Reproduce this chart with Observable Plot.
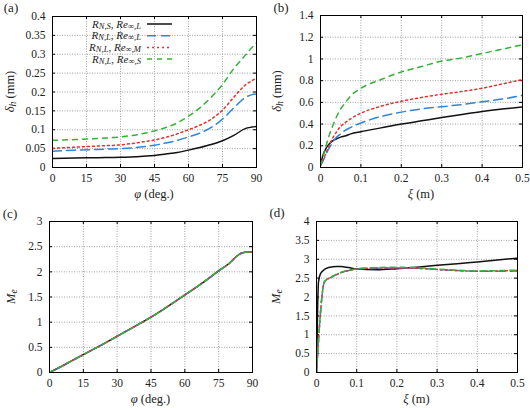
<!DOCTYPE html>
<html>
<head>
<meta charset="utf-8">
<script src="https://cdn.jsdelivr.net/npm/d3@7"></script>
<script src="https://cdn.jsdelivr.net/npm/@observablehq/plot@0.6"></script>
<style>
  body { margin: 0; background: #fff; }
  #fig { position: relative; width: 530px; height: 408px; }
  #fig svg { position: absolute; overflow: visible; }
  #fig svg, #fig svg text { font-family: "Liberation Serif", "DejaVu Serif", serif !important; }
</style>
</head>
<body>
<div id="fig"></div>
<script>
// ---- series styling (black solid, blue long dash, red dots, green dashes)
const seriesKeys = ["NS_L", "NL_L", "NL_M", "NL_S"];
const seriesColors = ["#111111", "#2f86d8", "#e3322f", "#35b035"];
const seriesDash = [null, "9,5", "2,3", "5,5"];
const legendRows = [
  [["R", "i"], ["N,S", "sub"], [", ", ""], ["Re", "i"], ["∞,L", "sub"]],
  [["R", "i"], ["N,L", "sub"], [", ", ""], ["Re", "i"], ["∞,L", "sub"]],
  [["R", "i"], ["N,L", "sub"], [", ", ""], ["Re", "i"], ["∞,M", "sub"]],
  [["R", "i"], ["N,L", "sub"], [", ", ""], ["Re", "i"], ["∞,S", "sub"]]
];

// ---- (a) boundary-layer thickness vs. phi
const phiA = [0, 10, 20, 30, 40, 45, 50, 55, 60, 65, 70, 75, 80, 85, 88, 90];
const deltaA_NS_L = [0.024, 0.025, 0.026, 0.027, 0.030, 0.032, 0.036, 0.040, 0.046, 0.053, 0.061, 0.071, 0.085, 0.103, 0.107, 0.109];
const deltaA_NL_L = [0.043, 0.046, 0.048, 0.050, 0.055, 0.059, 0.065, 0.072, 0.081, 0.091, 0.106, 0.128, 0.158, 0.185, 0.193, 0.195];
const deltaA_NL_M = [0.051, 0.054, 0.057, 0.060, 0.068, 0.073, 0.080, 0.089, 0.100, 0.112, 0.128, 0.152, 0.186, 0.218, 0.230, 0.237];
const deltaA_NL_S = [0.072, 0.074, 0.077, 0.081, 0.090, 0.097, 0.106, 0.118, 0.136, 0.158, 0.186, 0.220, 0.262, 0.297, 0.318, 0.330];

// ---- (b) boundary-layer thickness vs. xi
const xiB = [0, 0.005, 0.01, 0.02, 0.03, 0.04, 0.05, 0.06, 0.075, 0.1, 0.15, 0.2, 0.25, 0.3, 0.35, 0.4, 0.45, 0.5];
const deltaB_NS_L = [0.02, 0.10, 0.15, 0.21, 0.245, 0.265, 0.28, 0.29, 0.31, 0.33, 0.365, 0.40, 0.43, 0.46, 0.488, 0.515, 0.538, 0.558];
const deltaB_NL_L = [0.02, 0.05, 0.09, 0.17, 0.23, 0.28, 0.31, 0.34, 0.37, 0.41, 0.47, 0.51, 0.54, 0.56, 0.58, 0.605, 0.63, 0.665];
const deltaB_NL_M = [0.02, 0.06, 0.10, 0.19, 0.27, 0.33, 0.38, 0.41, 0.45, 0.50, 0.565, 0.61, 0.645, 0.675, 0.70, 0.73, 0.77, 0.81];
const deltaB_NL_S = [0.02, 0.08, 0.15, 0.28, 0.38, 0.47, 0.54, 0.59, 0.66, 0.73, 0.81, 0.88, 0.93, 0.98, 1.01, 1.05, 1.09, 1.13];

// ---- (c) edge Mach number vs. phi (all four cases coincide)
const phiC = [0, 5, 10, 15, 20, 25, 30, 35, 40, 45, 50, 55, 60, 65, 70, 75, 80, 83, 85, 87, 90];
const machC = [0, 0.115, 0.235, 0.355, 0.475, 0.595, 0.72, 0.845, 0.97, 1.10, 1.24, 1.39, 1.54, 1.69, 1.85, 2.02, 2.18, 2.31, 2.37, 2.39, 2.40];

// ---- (d) edge Mach number vs. xi
const xiD_NS = [0, 0.003, 0.005, 0.01, 0.02, 0.03, 0.04, 0.05, 0.06, 0.08, 0.1, 0.15, 0.2, 0.25, 0.3, 0.35, 0.4, 0.45, 0.5];
const machD_NS_L = [0, 1.8, 2.4, 2.62, 2.73, 2.78, 2.80, 2.81, 2.81, 2.78, 2.74, 2.72, 2.75, 2.79, 2.84, 2.88, 2.93, 2.98, 3.03];
const xiD_NL = [0, 0.02, 0.04, 0.06, 0.08, 0.1, 0.15, 0.2, 0.25, 0.3, 0.35, 0.4, 0.45, 0.5];
const machD_NL_L = [0, 2.40, 2.54, 2.64, 2.70, 2.74, 2.76, 2.77, 2.76, 2.73, 2.70, 2.68, 2.68, 2.69];
const machD_NL_M = [0, 2.40, 2.54, 2.64, 2.70, 2.74, 2.77, 2.77, 2.76, 2.73, 2.70, 2.68, 2.69, 2.70];
const machD_NL_S = [0, 2.41, 2.55, 2.65, 2.71, 2.75, 2.78, 2.79, 2.78, 2.74, 2.71, 2.69, 2.70, 2.71];

// ---- axis ticks
const ticksPhi = [0, 15, 30, 45, 60, 75, 90];
const ticksXi = [0, 0.1, 0.2, 0.3, 0.4, 0.5];
const ticksDeltaA = [0, 0.05, 0.1, 0.15, 0.2, 0.25, 0.3, 0.35, 0.4];
const ticksDeltaB = [0, 0.2, 0.4, 0.6, 0.8, 1, 1.2, 1.4];
const ticksMachC = [0, 0.5, 1, 1.5, 2, 2.5, 3];
const ticksMachD = [0, 0.5, 1, 1.5, 2, 2.5, 3, 3.5, 4];

const toRows = (xs, ys) => xs.map((x, i) => ({x, y: ys[i]}));

const W = 265, H = 204;
const FONT = "'Liberation Serif', 'DejaVu Serif', serif";
const fig = d3.select("#fig");

// write a math-style label made of [text, style] parts into a <text> node
function mathParts(textSel, parts, size) {
  parts.forEach(([t, s]) => {
    if (s === "sub") {
      textSel.append("tspan").attr("font-style", "italic").attr("font-size", size * 0.78)
        .attr("baseline-shift", "-15%").text(t);
    } else {
      textSel.append("tspan").attr("font-style", s === "i" ? "italic" : "normal").text(t);
    }
  });
}

function panel(opt) {
  const {left, top, m, xDomain, xTicks, yDomain, yTicks, lines, tag, xLabel, yLabel, yLabelX} = opt;
  const innerW = W - m[1] - m[3], innerH = H - m[0] - m[2];
  const fmt = d => String(d);
  const marks = [
    Plot.gridX(xTicks, {stroke: "#8a8a8a", strokeOpacity: 1, strokeDasharray: "1,1.5", strokeWidth: 0.8}),
    Plot.gridY(yTicks, {stroke: "#8a8a8a", strokeOpacity: 1, strokeDasharray: "1,1.5", strokeWidth: 0.8}),
    Plot.axisX(xTicks, {tickSize: 0, tickPadding: 6, tickFormat: fmt, label: null, fontSize: 11.5}),
    Plot.axisY(yTicks, {tickSize: 0, tickPadding: 7, tickFormat: fmt, label: null, fontSize: 11.5}),
    Plot.tickX(xTicks, {x: d => d, insetTop: innerH - 3, stroke: "#000"}),
    Plot.tickX(xTicks, {x: d => d, insetBottom: innerH - 3, stroke: "#000"}),
    Plot.tickY(yTicks, {y: d => d, insetRight: innerW - 3, stroke: "#000"}),
    Plot.tickY(yTicks, {y: d => d, insetLeft: innerW - 3, stroke: "#000"})
  ];
  lines.forEach(([rows, k]) => {
    marks.push(Plot.line(rows, {
      x: "x", y: "y", stroke: seriesColors[k], strokeWidth: 1.5,
      strokeDasharray: seriesDash[k] || undefined, curve: "monotone-x", clip: true
    }));
  });
  marks.push(Plot.frame({stroke: "#000", strokeWidth: 1}));

  const svg = Plot.plot({
    width: W, height: H,
    marginTop: m[0], marginRight: m[1], marginBottom: m[2], marginLeft: m[3],
    x: {domain: xDomain},
    y: {domain: yDomain},
    style: {fontFamily: FONT, fontSize: "11.5px", color: "#222", background: "transparent"},
    marks
  });
  svg.style.left = left + "px";
  svg.style.top = top + "px";
  fig.node().appendChild(svg);

  const s = d3.select(svg);
  const g = s.append("g").attr("font-family", FONT).attr("fill", "#222");
  // panel tag
  g.append("text").attr("x", opt.tagX).attr("y", opt.tagY).attr("font-size", 13).text(tag);
  // x label
  const xl = g.append("text").attr("x", m[3] + innerW / 2).attr("y", H - m[2] + 31)
    .attr("text-anchor", "middle").attr("font-size", 12.5);
  mathParts(xl, xLabel, 12.5);
  // y label
  const cy = m[0] + innerH / 2;
  const yl = g.append("text").attr("transform", `translate(${yLabelX},${cy}) rotate(-90)`)
    .attr("text-anchor", "middle").attr("dy", "0.35em").attr("font-size", 12.5);
  mathParts(yl, yLabel, 12.5);
  return svg;
}

const deltaLabel = [["δ", "i"], ["h", "sub"], [" (mm)", ""]];
const machLabel = [["M", "i"], ["e", "sub"]];
const phiLabel = [["φ", "i"], [" (deg.)", ""]];
const xiLabel = [["ξ", "i"], [" (m)", ""]];

// (a)
const svgA = panel({
  left: 0, top: 0, m: [16, 9, 37, 52],
  xDomain: [0, 90], xTicks: ticksPhi, yDomain: [0, 0.4], yTicks: ticksDeltaA,
  lines: [
    [toRows(phiA, deltaA_NS_L), 0], [toRows(phiA, deltaA_NL_L), 1],
    [toRows(phiA, deltaA_NL_M), 2], [toRows(phiA, deltaA_NL_S), 3]
  ],
  tag: "(a)", tagX: 11, tagY: 12, xLabel: phiLabel, yLabel: deltaLabel, yLabelX: 10
});

// legend inside (a)
{
  const lg = d3.select(svgA).append("g").attr("font-family", FONT).attr("fill", "#222");
  legendRows.forEach((parts, i) => {
    const y = 24 + i * 11.7;
    const t = lg.append("text").attr("x", 141).attr("y", y).attr("dy", "0.32em")
      .attr("text-anchor", "end").attr("font-size", 11);
    mathParts(t, parts, 11);
    lg.append("line").attr("x1", 147).attr("x2", 172).attr("y1", y).attr("y2", y)
      .attr("stroke", seriesColors[i]).attr("stroke-width", 1.5)
      .attr("stroke-dasharray", seriesDash[i]);
  });
}

// (b)
panel({
  left: 265, top: 0, m: [15, 8, 37, 55],
  xDomain: [0, 0.5], xTicks: ticksXi, yDomain: [0, 1.4], yTicks: ticksDeltaB,
  lines: [
    [toRows(xiB, deltaB_NS_L), 0], [toRows(xiB, deltaB_NL_L), 1],
    [toRows(xiB, deltaB_NL_M), 2], [toRows(xiB, deltaB_NL_S), 3]
  ],
  tag: "(b)", tagX: 16, tagY: 12, xLabel: xiLabel, yLabel: deltaLabel, yLabelX: 12
});

// (c)
panel({
  left: 0, top: 204, m: [17, 13, 36, 49],
  xDomain: [0, 90], xTicks: ticksPhi, yDomain: [0, 3], yTicks: ticksMachC,
  lines: [
    [toRows(phiC, machC), 0], [toRows(phiC, machC), 1],
    [toRows(phiC, machC), 2], [toRows(phiC, machC), 3]
  ],
  tag: "(c)", tagX: 10, tagY: 14, xLabel: phiLabel, yLabel: machLabel, yLabelX: 11
});

// (d)
panel({
  left: 265, top: 204, m: [17, 13, 36, 51],
  xDomain: [0, 0.5], xTicks: ticksXi, yDomain: [0, 4], yTicks: ticksMachD,
  lines: [
    [toRows(xiD_NS, machD_NS_L), 0], [toRows(xiD_NL, machD_NL_L), 1],
    [toRows(xiD_NL, machD_NL_M), 2], [toRows(xiD_NL, machD_NL_S), 3]
  ],
  tag: "(d)", tagX: 12, tagY: 13, xLabel: xiLabel, yLabel: machLabel, yLabelX: 11
});
</script>
</body>
</html>
